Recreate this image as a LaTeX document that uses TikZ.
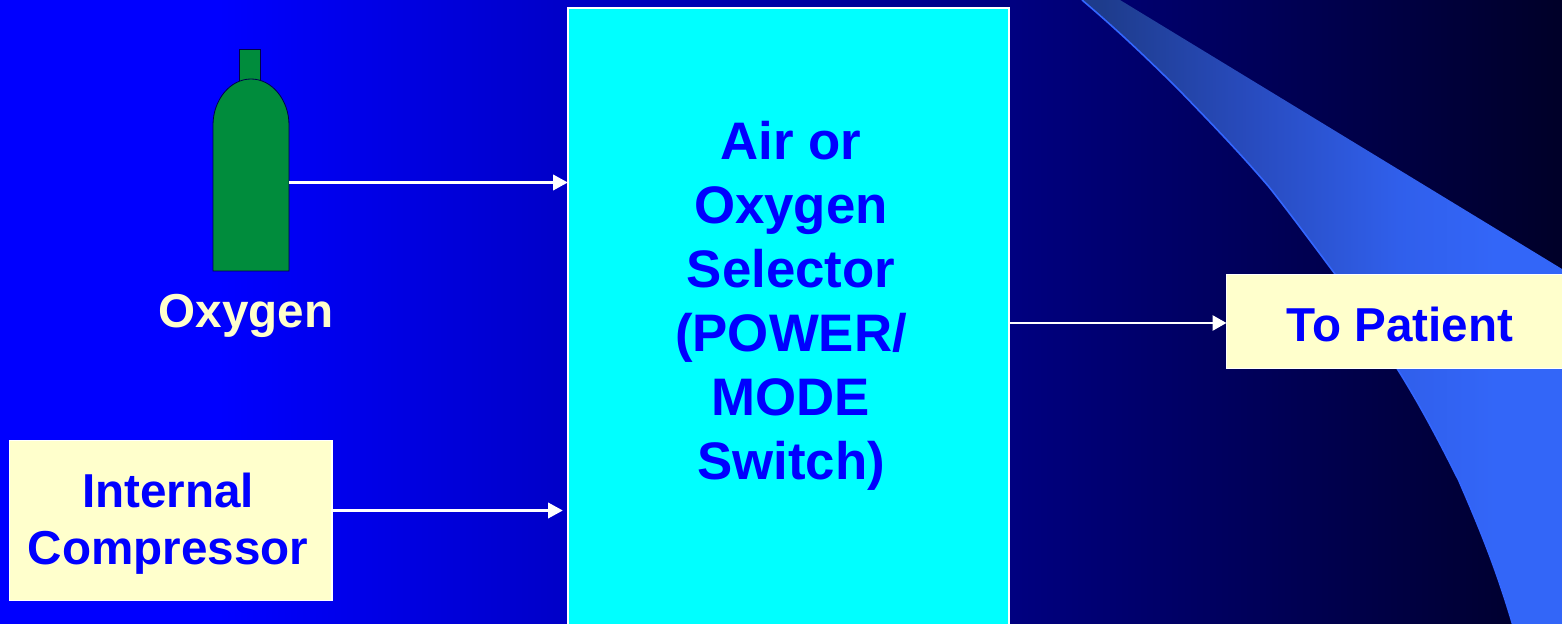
\documentclass[tikz,border=0pt]{standalone}
\usepackage{fontspec}
\setmainfont{Liberation Sans}
\usetikzlibrary{arrows.meta}
\definecolor{cream}{RGB}{255,255,204}
\definecolor{wedgeline}{RGB}{51,102,255}
\definecolor{bgleft}{RGB}{0,0,255}
\definecolor{bgright}{RGB}{0,0,40}
\definecolor{selcyan}{RGB}{0,255,255}
\definecolor{textblue}{RGB}{0,0,255}
\pgfdeclarehorizontalshading{slidebg}{100bp}{
  color(0bp)=(bgleft);
  color(25bp)=(bgleft);
  color(32bp)=(bgleft);
  color(75bp)=(bgright);
  color(100bp)=(bgright)}
\definecolor{wa}{RGB}{30,60,140}
\definecolor{wb}{RGB}{40,75,190}
\definecolor{wc}{RGB}{48,95,235}
\definecolor{wd}{RGB}{51,102,248}
\pgfdeclarehorizontalshading{wedgeshade}{100bp}{
  color(0bp)=(wa);
  color(27bp)=(wa);
  color(42.5bp)=(wb);
  color(58bp)=(wc);
  color(68bp)=(wd);
  color(100bp)=(wd)}
\definecolor{bottlegreen}{RGB}{0,140,60}
\tikzset{
  label text/.style={font=\bfseries\fontsize{23.8}{28.5}\selectfont,text=textblue,align=center,inner sep=0pt},
  yellow box/.style={fill=cream,draw=white,line width=0.6pt,inner sep=0pt,outer sep=0pt},
  flow/.style={draw=white,line width=1.9pt,-{Triangle[length=7.5pt,width=7.5pt,fill=white]}},
  thin flow/.style={draw=white,line width=1.4pt,-{Triangle[length=7pt,width=7.5pt,fill=white]}},
  bottle part/.style={fill=bottlegreen,draw=black!70!blue,line width=0.4pt}
}
\begin{document}
\begin{tikzpicture}[x=0.5pt,y=-0.5pt]
\useasboundingbox (0,0) rectangle (1562,624);
\shade[shading=slidebg] (0,0) rectangle (1562,624);
% wedge
\shade[shading=wedgeshade] (1120,0) -- (1562,269) -- (1562,624) -- (1512.5,624)
  .. controls (1495,565) and (1478,525) .. (1459,481)
  .. controls (1440,443) and (1420,405) .. (1398,370)
  .. controls (1378,338) and (1358,306) .. (1335,274)
  .. controls (1314,246) and (1292,216) .. (1269,187)
  .. controls (1240,153) and (1210,122) .. (1179,90)
  .. controls (1147,58) and (1115,28) .. (1082,0) -- cycle;
\draw[wedgeline,line width=0.8pt] (1512.5,624)
  .. controls (1495,565) and (1478,525) .. (1459,481)
  .. controls (1440,443) and (1420,405) .. (1398,370)
  .. controls (1378,338) and (1358,306) .. (1335,274)
  .. controls (1314,246) and (1292,216) .. (1269,187)
  .. controls (1240,153) and (1210,122) .. (1179,90)
  .. controls (1147,58) and (1115,28) .. (1082,0);
% bottle
\draw[bottle part] (239,49) rectangle (260,81);
\draw[bottle part] (213,271) -- (213,125) .. controls (213,100) and (230,79) .. (251,79)
  .. controls (272,79) and (289,100) .. (289,125) -- (289,271) -- cycle;
\node[minimum width=38pt,minimum height=96pt,inner sep=0pt,outer sep=0pt] (bottle) at (251,175) {};
\node[label text,text=cream,anchor=base] (oxylabel) at (246,328) {Oxygen};
% boxes
\node[fill=selcyan,draw=white,line width=1.2pt,inner sep=0pt,outer sep=0pt,minimum width=220.5pt,minimum height=312pt,anchor=north west] (selector) at (568,8) {};
\node[label text,font=\bfseries\fontsize{26.4}{32}\selectfont] (seltext) at (791,306) {Air or\\Oxygen\\Selector\\(POWER/\\MODE\\Switch)};
\node[yellow box,minimum width=161.2pt,minimum height=79.8pt,anchor=north west] (compressor) at (9.5,440.5) {};
\node[label text] (comptext) at (168,523.5) {Internal\\Compressor};
\node[yellow box,minimum width=174pt,minimum height=46.9pt,anchor=north west] (patient) at (1226.5,274.5) {};
\node[label text] (pattext) at (1400,324) {To Patient};
% connectors
\coordinate (ya) at (0,182.5);
\coordinate (yb) at (0,510.5);
\coordinate (yc) at (0,323);
\draw[flow] (bottle.east |- ya) -- (selector.west |- ya);
\draw[flow,shorten >=2.5pt] (compressor.east |- yb) -- (selector.west |- yb);
\draw[thin flow] (selector.east |- yc) -- (patient.west |- yc);
\end{tikzpicture}
\end{document}
